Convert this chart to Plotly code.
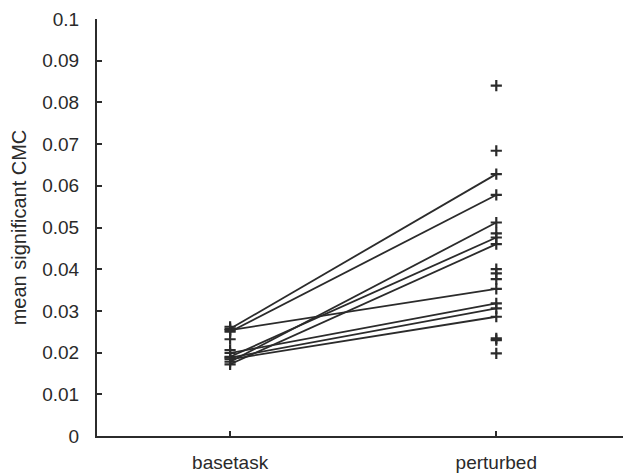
import plotly.graph_objects as go

categories = ["basetask", "perturbed"]
cat_pos = [1, 2]

# paired subjects (connected by lines)
pair_base = [0.0257, 0.0250, 0.0254, 0.0178, 0.0190, 0.0172, 0.0199, 0.0188, 0.0184]
pair_pert = [0.0628, 0.0578, 0.0353, 0.0512, 0.0476, 0.0460, 0.0318, 0.0306, 0.0286]

# unconnected points
extra_base = [0.0262, 0.0232, 0.0206]
extra_pert = [0.0840, 0.0684, 0.0486, 0.0400, 0.0390, 0.0376, 0.0234, 0.0230, 0.0198]

y_ticks = [0, 0.01, 0.02, 0.03, 0.04, 0.05, 0.06, 0.07, 0.08, 0.09, 0.1]
y_tick_text = ["0", "0.01", "0.02", "0.03", "0.04", "0.05", "0.06", "0.07", "0.08", "0.09", "0.1"]

ink = "#2b2b2b"
fig = go.Figure()

for b, p in zip(pair_base, pair_pert):
    fig.add_trace(go.Scatter(x=cat_pos, y=[b, p], mode="lines",
                             line=dict(color=ink, width=1.8), showlegend=False, hoverinfo="skip"))

all_x = [cat_pos[0]] * (len(pair_base) + len(extra_base)) + [cat_pos[1]] * (len(pair_pert) + len(extra_pert))
all_y = pair_base + extra_base + pair_pert + extra_pert
fig.add_trace(go.Scatter(x=all_x, y=all_y, mode="markers",
                         marker=dict(symbol="cross-thin", size=8, line=dict(color=ink, width=2.2)),
                         showlegend=False))

font = "Liberation Sans, Arial, Helvetica, sans-serif"
fig.update_layout(
    width=623, height=475,
    margin=dict(l=97, r=0, t=19, b=39),
    paper_bgcolor="white", plot_bgcolor="white",
    font=dict(family=font, size=19, color="#2a2a2a"),
    xaxis=dict(range=[0.5, 2.476], tickmode="array", tickvals=cat_pos, ticktext=categories,
               showline=True, linecolor=ink, linewidth=2, ticks="inside", ticklen=5,
               tickcolor=ink, tickwidth=1.5, showgrid=False, zeroline=False,
               ticklabelstandoff=8, tickfont=dict(size=19)),
    yaxis=dict(range=[0, 0.1], tickmode="array", tickvals=y_ticks, ticktext=y_tick_text,
               showline=True, linecolor=ink, linewidth=2, ticks="inside", ticklen=5,
               tickcolor=ink, tickwidth=1.5, showgrid=False, zeroline=False,
               ticklabelstandoff=12, tickfont=dict(size=19),
               title=dict(text="mean significant CMC", font=dict(size=20), standoff=10)),
)

fig.write_html("out.html")
